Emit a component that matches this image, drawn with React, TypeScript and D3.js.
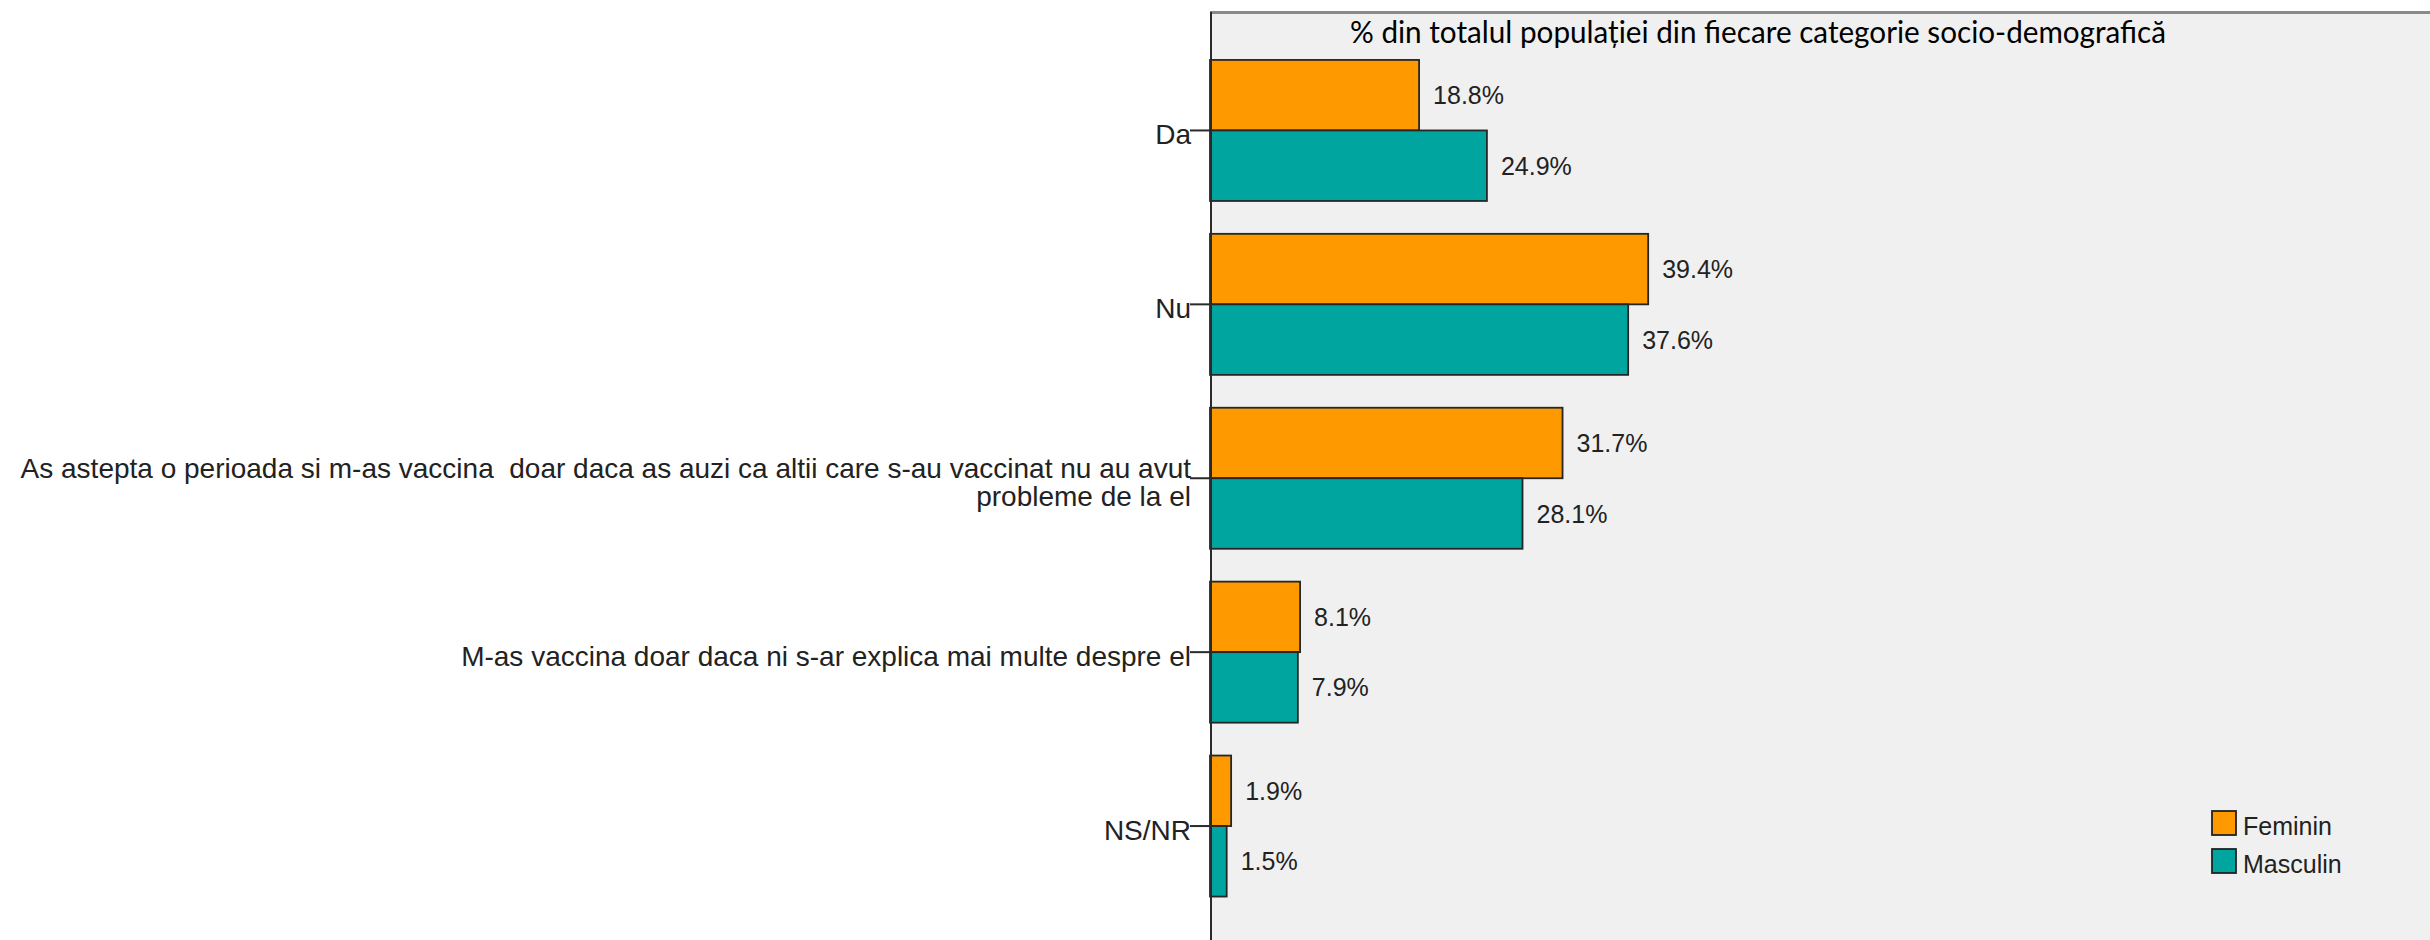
import React from "react";
import * as d3 from "d3";

const categories = [
  "Da",
  "Nu",
  "As astepta o perioada si m-as vaccina  doar daca as auzi ca altii care s-au vaccinat nu au avut probleme de la el",
  "M-as vaccina doar daca ni s-ar explica mai multe despre el",
  "NS/NR",
];
const categoryLines = [
  ["Da"],
  ["Nu"],
  ["As astepta o perioada si m-as vaccina  doar daca as auzi ca altii care s-au vaccinat nu au avut", "probleme de la el"],
  ["M-as vaccina doar daca ni s-ar explica mai multe despre el"],
  ["NS/NR"],
];
const seriesNames = ["Feminin", "Masculin"];
const feminin = [18.8, 39.4, 31.7, 8.1, 1.9];
const masculin = [24.9, 37.6, 28.1, 7.9, 1.5];
const seriesColors = ["#fe9900", "#00a5a0"];
const title = "% din totalul populației din fiecare categorie socio-demografică";

const W = 2430;
const H = 940;
const plotLeft = 1210;
const plotTop = 12;

export default function App() {
  const x = d3.scaleLinear().domain([0, 109.7]).range([plotLeft, W]);
  const y = d3
    .scaleBand<string>()
    .domain(categories)
    .range([43.5, 913])
    .paddingInner(0.189)
    .paddingOuter(0.0945);
  const inner = d3.scaleBand<string>().domain(seriesNames).range([0, y.bandwidth()]);
  const values = [feminin, masculin];

  return (
    <svg
      width={W}
      height={H}
      style={{ position: "absolute", left: 0, top: 0, display: "block" }}
    >
      <rect x={0} y={0} width={W} height={H} fill="#ffffff" />
      <rect x={plotLeft} y={plotTop} width={W - plotLeft} height={H - plotTop} fill="#f0f0f0" />
      <line x1={plotLeft} x2={W} y1={plotTop + 0.5} y2={plotTop + 0.5} stroke="#8a8a8a" strokeWidth={3} />
      <text
        x={1350}
        y={43}
        fontFamily="Lato, 'Open Sans', sans-serif"
        fontSize={30}
        fill="#000"
        textLength={816}
        lengthAdjust="spacingAndGlyphs"
      >
        {title}
      </text>

      {categories.map((c, ci) => (
        <g key={c}>
          {seriesNames.map((s, si) => {
            const v = values[si][ci];
            const y0 = (y(c) as number) + (inner(s) as number);
            const h = inner.bandwidth();
            return (
              <g key={s}>
                <rect
                  x={x(0)}
                  y={y0}
                  width={x(v) - x(0)}
                  height={h}
                  fill={seriesColors[si]}
                  stroke="#262626"
                  strokeWidth={1.8}
                />
                <text
                  x={x(v) + 14}
                  y={y0 + h / 2 + 9}
                  fontFamily="'Liberation Sans', Arial, sans-serif"
                  fontSize={25}
                  fill="#222"
                >
                  {v.toFixed(1)}%
                </text>
              </g>
            );
          })}
        </g>
      ))}

      <line x1={plotLeft + 1} x2={plotLeft + 1} y1={plotTop} y2={H} stroke="#2a2a2a" strokeWidth={2} />

      {categories.map((c, ci) => {
        const cy = (y(c) as number) + y.bandwidth() / 2;
        const lines = categoryLines[ci];
        const n = lines.length;
        return (
          <g key={"lab" + ci}>
            <line x1={1190} x2={plotLeft} y1={cy} y2={cy} stroke="#2a2a2a" strokeWidth={2} />
            {lines.map((ln, li) => (
              <text
                key={li}
                x={1191}
                y={cy + 14 + (li - (n - 1) / 2) * 28}
                textAnchor="end"
                fontFamily="'Liberation Sans', Arial, sans-serif"
                fontSize={28}
                fill="#222"
                style={{ whiteSpace: "pre" }}
              >
                {ln}
              </text>
            ))}
          </g>
        );
      })}

      {seriesNames.map((s, si) => (
        <g key={"leg" + s}>
          <rect
            x={2212}
            y={811 + si * 38}
            width={24}
            height={24}
            fill={seriesColors[si]}
            stroke="#222"
            strokeWidth={1.8}
          />
          <text
            x={2243}
            y={835 + si * 38}
            fontFamily="'Liberation Sans', Arial, sans-serif"
            fontSize={25}
            fill="#222"
          >
            {s}
          </text>
        </g>
      ))}
    </svg>
  );
}
